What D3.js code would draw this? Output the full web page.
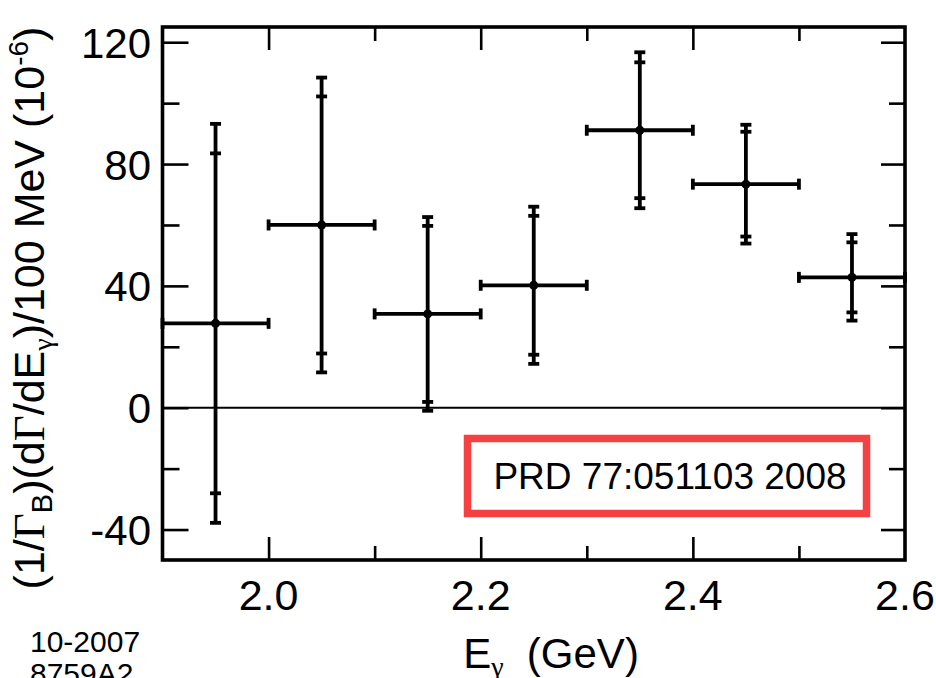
<!DOCTYPE html>
<html>
<head>
<meta charset="utf-8">
<script src="https://cdn.jsdelivr.net/npm/d3@7"></script>
<style>
  html, body { margin: 0; padding: 0; background: #fff; }
  svg { display: block; }
  text { font-family: "Liberation Sans", Arial, Helvetica, sans-serif; fill: #000; }
</style>
</head>
<body>
<svg id="chart" width="936" height="678"></svg>
<script>
// ---- data ----
const binCenters = [1.95, 2.05, 2.15, 2.25, 2.35, 2.45, 2.55];
const binHalfWidth = [0.05, 0.05, 0.05, 0.05, 0.05, 0.05, 0.05];
const values = [27.7, 60.0, 30.8, 40.2, 91.1, 73.4, 42.8];
const statErr = [55.8, 42.2, 28.9, 22.8, 22.3, 17.2, 11.5];
const totalErr = [65.5, 48.4, 31.8, 25.8, 25.6, 19.5, 14.2];
const xMajorTicks = [2.0, 2.2, 2.4, 2.6];
const xMinorTicks = [2.1, 2.3, 2.5];
const xTickLabels = ["2.0", "2.2", "2.4", "2.6"];
const yMajorTicks = [-40, 0, 40, 80, 120];
const yMinorTicks = [-20, 20, 60, 100];
const yTickLabels = ["-40", "0", "40", "80", "120"];
const xDomain = [1.9, 2.6];
const yDomain = [-50, 125];
const refText = "PRD 77:051103 2008";
const stampLines = ["10-2007", "8759A2"];

const data = binCenters.map((c, i) => ({
  x: c, hw: binHalfWidth[i], y: values[i], s: statErr[i], t: totalErr[i]
}));

// ---- layout ----
const L = 162.5, R = 905, T = 27, B = 560;
const svg = d3.select("#chart");
const x = d3.scaleLinear().domain(xDomain).range([L, R]);
const y = d3.scaleLinear().domain(yDomain).range([B, T]);

const MAJ = 25, MIN = 15;

function tickAxis(axisFn, scale, vals, size, transform) {
  const g = svg.append("g").attr("transform", transform)
    .call(axisFn(scale).tickValues(vals).tickSize(-size).tickFormat(""));
  g.select(".domain").remove();
  g.selectAll(".tick line").attr("stroke", "#000").attr("stroke-width", 2.6);
  return g;
}
// bottom
tickAxis(d3.axisBottom, x, xMajorTicks.filter(v => v < 2.6), MAJ - 2, `translate(0,${B})`);
tickAxis(d3.axisBottom, x, xMinorTicks, MIN - 1, `translate(0,${B})`);
// top
tickAxis(d3.axisTop, x, xMajorTicks.filter(v => v < 2.6), MAJ - 2, `translate(0,${T})`);
tickAxis(d3.axisTop, x, xMinorTicks, MIN - 1, `translate(0,${T})`);
// left
tickAxis(d3.axisLeft, y, yMajorTicks, MAJ + 1, `translate(${L},0)`);
tickAxis(d3.axisLeft, y, yMinorTicks, MIN + 2, `translate(${L},0)`);
// right
tickAxis(d3.axisRight, y, yMajorTicks, MAJ - 1, `translate(${R},0)`);
tickAxis(d3.axisRight, y, yMinorTicks, MIN + 1, `translate(${R},0)`);

// tick labels
svg.append("g").selectAll("text").data(xMajorTicks).join("text")
  .attr("x", d => x(d)).attr("y", 610)
  .attr("text-anchor", "middle")
  .attr("font-size", 43)
  .text((d, i) => xTickLabels[i]);

svg.append("g").selectAll("text").data(yMajorTicks).join("text")
  .attr("x", 151).attr("y", d => y(d) + 15.5)
  .attr("text-anchor", "end")
  .attr("font-size", 42)
  .text((d, i) => yTickLabels[i]);

// zero line
svg.append("line")
  .attr("x1", L).attr("x2", R).attr("y1", y(0)).attr("y2", y(0))
  .attr("stroke", "#000").attr("stroke-width", 2);

// frame
svg.append("rect")
  .attr("x", L).attr("y", T).attr("width", R - L).attr("height", B - T)
  .attr("fill", "none").attr("stroke", "#000").attr("stroke-width", 3.6);

// error bars
const eb = svg.append("g").attr("stroke", "#000").attr("stroke-width", 3.8).attr("fill", "none");
const capW = 5.5;
data.forEach(d => {
  const cx = x(d.x), cy = y(d.y);
  eb.append("line").attr("x1", x(d.x - d.hw)).attr("x2", x(d.x + d.hw)).attr("y1", cy).attr("y2", cy);
  eb.append("line").attr("x1", x(d.x - d.hw)).attr("x2", x(d.x - d.hw)).attr("y1", cy - capW).attr("y2", cy + capW);
  eb.append("line").attr("x1", x(d.x + d.hw)).attr("x2", x(d.x + d.hw)).attr("y1", cy - capW).attr("y2", cy + capW);
  eb.append("line").attr("x1", cx).attr("x2", cx).attr("y1", y(d.y + d.t)).attr("y2", y(d.y - d.t));
  [d.y + d.t, d.y - d.t, d.y + d.s, d.y - d.s].forEach(v => {
    eb.append("line").attr("x1", cx - capW).attr("x2", cx + capW).attr("y1", y(v)).attr("y2", y(v));
  });
});
svg.append("g").selectAll("circle").data(data).join("circle")
  .attr("cx", d => x(d.x)).attr("cy", d => y(d.y)).attr("r", 4.5).attr("fill", "#000");

// reference box
svg.append("rect")
  .attr("x", 467.5).attr("y", 438.5).attr("width", 399).attr("height", 75)
  .attr("fill", "#fff").attr("stroke", "#f54141").attr("stroke-width", 7.5);
svg.append("text")
  .attr("x", 670).attr("y", 489)
  .attr("text-anchor", "middle").attr("font-size", 37)
  .text(refText);

// x title
const xt = svg.append("text").attr("x", 551).attr("y", 668).attr("text-anchor", "middle").attr("font-size", 42);
xt.append("tspan").text("E");
xt.append("tspan").attr("font-family", "'Liberation Serif', serif").attr("font-size", 28).attr("dy", 8).text("γ");
xt.append("tspan").attr("dy", -8).text("\u00a0 (GeV)");

// y title
const yt = svg.append("text")
  .attr("transform", "translate(44,308) rotate(-90)")
  .attr("text-anchor", "middle").attr("font-size", 43);
yt.append("tspan").text("(1/");
yt.append("tspan").attr("font-family", "'Liberation Serif', serif").attr("font-size", 45).text("Γ");
yt.append("tspan").attr("font-size", 29).attr("dy", 8).text("B");
yt.append("tspan").attr("dy", -8).text(")(d");
yt.append("tspan").attr("font-family", "'Liberation Serif', serif").attr("font-size", 45).text("Γ");
yt.append("tspan").text("/dE");
yt.append("tspan").attr("font-family", "'Liberation Serif', serif").attr("font-size", 28).attr("dy", 8).text("γ");
yt.append("tspan").attr("dy", -8).text(")/100 MeV (10");
yt.append("tspan").attr("font-size", 28).attr("dy", -16).text("-6");
yt.append("tspan").attr("dy", 16).text(")");

// stamp
svg.append("g").selectAll("text").data(stampLines).join("text")
  .attr("x", 30).attr("y", (d, i) => 652 + i * 32)
  .attr("font-size", 30)
  .text(d => d);
</script>
</body>
</html>
